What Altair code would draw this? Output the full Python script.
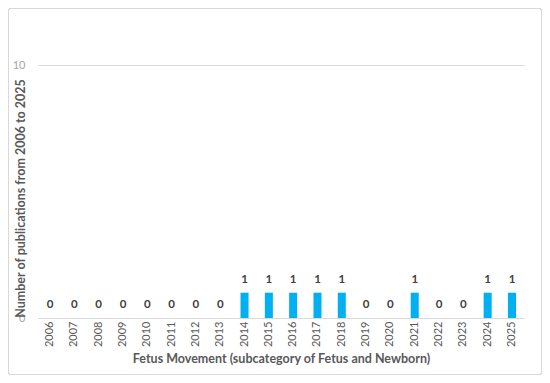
import altair as alt
import pandas as pd

years = [str(y) for y in range(2006, 2026)]
counts = [0, 0, 0, 0, 0, 0, 0, 0, 1, 1, 1, 1, 1, 0, 0, 1, 0, 0, 1, 1]

df = pd.DataFrame({"year": years, "count": counts})

FONT = "Lato"
W, H = 486, 253

base = alt.Chart(df)

bars = base.mark_bar(color="#00B0F0").encode(
    x=alt.X("year:N", sort=years,
            scale=alt.Scale(paddingInner=0.67, paddingOuter=0.33),
            axis=alt.Axis(title="Fetus Movement (subcategory of Fetus and Newborn)",
                          labelAngle=-90, labelFontSize=11, labelColor="#595959",
                          labelFont=FONT, labelPadding=3, ticks=False,
                          domainColor="#d9d9d9", titleFont=FONT, titleFontSize=12.5,
                          titleColor="#595959", titleFontWeight="bold", titlePadding=6)),
    y=alt.Y("count:Q", scale=alt.Scale(domain=[0, 10], nice=False),
            axis=alt.Axis(title="Number of publications from 2006 to 2025",
                          values=[0, 10], domain=False, ticks=False,
                          gridColor="#d9d9d9", labelColor="#a6a6a6", labelFont=FONT,
                          labelFontSize=11, labelPadding=13,
                          titleFont=FONT, titleFontSize=12.5, titleColor="#595959",
                          titleFontWeight="bold", titleX=-18, titleY=133,
                          titleAlign="center", titleBaseline="middle")),
)

labels = base.mark_text(baseline="bottom", dy=-8, font=FONT, fontSize=11.5,
                        fontWeight="bold", color="#404040").encode(
    x=alt.X("year:N", sort=years),
    y="count:Q",
    text="count:Q",
)

border = base.mark_rect(fill=None, stroke="#d9d9d9", strokeWidth=1,
                        cornerRadius=2).encode(
    x=alt.value(-29.5), x2=alt.value(503.5),
    y=alt.value(-56.5), y2=alt.value(309.5),
)

chart = alt.layer(border, bars, labels).properties(
    width=W, height=H,
    padding={"left": 30, "top": 57, "right": 18, "bottom": 57},
    autosize=alt.AutoSizeParams(type="none"),
).configure_view(stroke=None)

chart.save("out.html", embed_options={"renderer": "svg", "actions": False})
